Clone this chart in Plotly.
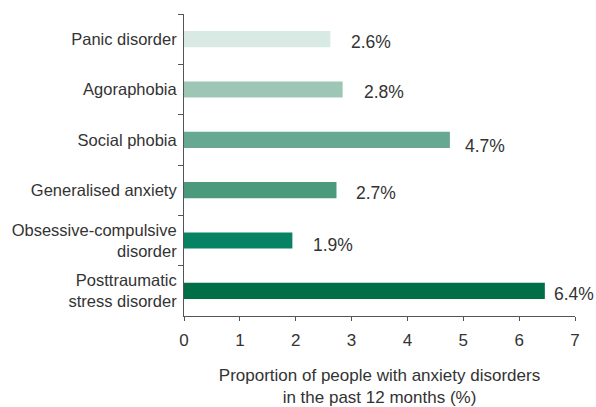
import plotly.graph_objects as go

categories = ["Panic disorder", "Agoraphobia", "Social phobia", "Generalised anxiety",
              "Obsessive-compulsive<br>disorder", "Posttraumatic<br>stress disorder"]
values = [2.62, 2.84, 4.76, 2.73, 1.94, 6.46]
value_labels = ["2.6%", "2.8%", "4.7%", "2.7%", "1.9%", "6.4%"]
colors = ["#d9e9e3", "#9dc6b5", "#66a892", "#4b9a7e", "#078263", "#006e47"]
x_ticks = [0, 1, 2, 3, 4, 5, 6, 7]

# label offsets (style only, in pixels)
label_gap = [19, 19, 13, 18, 19, 7]
label_drop = [3, 2, 6, 3, 4, 3]

FONT = "Liberation Sans, Arial, sans-serif"

fig = go.Figure(go.Bar(
    x=values, y=categories, orientation="h",
    marker=dict(color=colors, line=dict(width=0)),
    width=0.32, hoverinfo="skip",
))

for v, c, t, g, d in zip(values, categories, value_labels, label_gap, label_drop):
    fig.add_annotation(x=v, y=c, text=t, showarrow=False, xanchor="left",
                       xshift=g, yshift=-d,
                       font=dict(family=FONT, size=17.5, color="#333333"))

fig.update_layout(
    width=596, height=407,
    margin=dict(l=184, r=21, t=14, b=91),
    plot_bgcolor="white", paper_bgcolor="white",
    showlegend=False,
    font=dict(family=FONT, size=17, color="#333333"),
    xaxis=dict(range=[0, 7], tickvals=x_ticks, showgrid=False, zeroline=False,
               showline=True, linecolor="#555555", linewidth=1,
               ticks="outside", ticklen=4, tickcolor="#555555",
               tickfont=dict(size=17), automargin=False, ticklabelstandoff=5,
               title=dict(text="Proportion of people with anxiety disorders<br>in the past 12 months (%)",
                          font=dict(size=17), standoff=24)),
    yaxis=dict(autorange="reversed", showgrid=False, zeroline=False,
               showline=True, linecolor="#555555", linewidth=1,
               ticks="outside", ticklen=5, tickcolor="#555555", tickson="boundaries",
               tickfont=dict(size=16.5), ticklabelstandoff=3, automargin=False),
)

fig.write_html("out.html", config={"displayModeBar": False},
               post_script="document.body.style.margin='0';")
